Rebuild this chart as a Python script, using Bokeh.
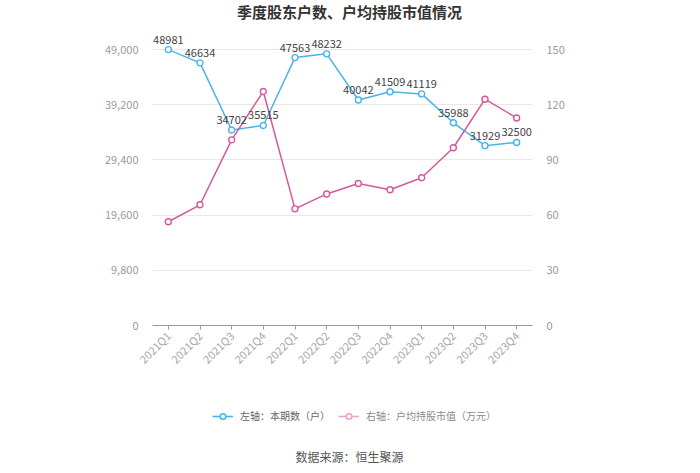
import math
from bokeh.plotting import figure
from bokeh.layouts import column
from bokeh.models import (FactorRange, Range1d, LinearAxis, FixedTicker, NumeralTickFormatter,
                          ColumnDataSource, Label, Legend, LegendItem)
from bokeh.embed import file_html
from bokeh.resources import INLINE
from bokeh.core.properties import value

quarters = ["2021Q1", "2021Q2", "2021Q3", "2021Q4", "2022Q1", "2022Q2",
            "2022Q3", "2022Q4", "2023Q1", "2023Q2", "2023Q3", "2023Q4"]
holders = [48981, 46634, 34702, 35515, 47563, 48232, 40042, 41509, 41119, 35988, 31929, 32500]
avg_value = [56.4, 65.6, 100.9, 127.2, 63.4, 71.5, 77.2, 73.8, 80.3, 96.6, 123.0, 112.8]
left_ticks = [0, 9800, 19600, 29400, 39200, 49000]
right_ticks = [0, 30, 60, 90, 120, 150]

title_text = "季度股东户数、户均持股市值情况"
legend_left = "左轴：本期数（户）"
legend_right = "右轴：户均持股市值（万元）"
source_text = "数据来源：恒生聚源"

BLUE = "#4AB3E8"
PINK = "#D6579D"
PINK_LIGHT = "#EBA3CB"
FONT = "Noto Sans CJK SC"

# frame spans 325 px; axis max sits 276 px above the baseline
head = 325 / 276
left_max = left_ticks[-1] * head
right_max = right_ticks[-1] * head

src = ColumnDataSource(dict(q=quarters, h=holders, v=avg_value,
                            hl=[str(x) for x in holders]))

p = figure(width=700, height=390, x_range=FactorRange(factors=quarters),
           y_range=Range1d(0, left_max), output_backend="svg", toolbar_location=None,
           min_border_left=152, min_border_right=168, min_border_top=0,
           min_border_bottom=65)
p.outline_line_color = None
p.background_fill_color = "white"
p.border_fill_color = "white"

p.extra_y_ranges = {"r": Range1d(0, right_max)}

ya = p.yaxis[0]
ya.ticker = FixedTicker(ticks=left_ticks)
ya.formatter = NumeralTickFormatter(format="0,0")
ra = LinearAxis(y_range_name="r", ticker=FixedTicker(ticks=right_ticks))
p.add_layout(ra, "right")
for ax in (ya, ra):
    ax.axis_line_color = None
    ax.major_tick_line_color = None
    ax.minor_tick_line_color = None
    ax.major_label_text_color = "#9a9a9a"
    ax.major_label_text_font_size = "11px"
    ax.major_label_text_font = FONT
    ax.major_label_standoff = 8

xa = p.xaxis[0]
xa.major_label_orientation = math.pi / 4
xa.axis_line_color = "#999999"
xa.major_tick_line_color = "#999999"
xa.major_tick_out = 4
xa.major_tick_in = 0
xa.major_label_text_color = "#a8a8a8"
xa.major_label_text_font_size = "11px"
xa.major_label_text_font = FONT
xa.major_label_standoff = 4

p.xgrid.grid_line_color = None
p.ygrid.ticker = FixedTicker(ticks=left_ticks)
p.ygrid.grid_line_color = "#e8e8e8"

l1 = p.line(x="q", y="h", source=src, line_color=BLUE, line_width=1.5)
s1 = p.scatter(x="q", y="h", source=src, marker="circle", size=6, fill_color="white",
               line_color=BLUE, line_width=1.4)
l2 = p.line(x="q", y="v", source=src, line_color=PINK, line_width=1.5, y_range_name="r")
s2 = p.scatter(x="q", y="v", source=src, marker="circle", size=6, fill_color="white",
               line_color=PINK, line_width=1.4, y_range_name="r")

p.text(x="q", y="h", text="hl", source=src, text_align="center", text_baseline="bottom",
       y_offset=-6, text_font_size="11px", text_color="#444444", text_font=value(FONT))

# title inside the (tall) frame, positioned in screen px from frame bottom-left
p.add_layout(Label(x=197, y=314, x_units="screen", y_units="screen", text=title_text,
                   text_align="center", text_baseline="middle", text_font_size="15px",
                   text_font_style="bold", text_color="#333333", text_font=FONT))

# footer with legend and source (its frame is aligned with the main frame: x 152..532)
f = figure(width=700, height=83, x_range=Range1d(0, 1), y_range=Range1d(0, 1),
           output_backend="svg", toolbar_location=None, min_border=0)
f.axis.visible = False
f.grid.visible = False
f.outline_line_color = None
f.background_fill_color = "white"
f.border_fill_color = "white"

# legend keys only (no data points of their own)
nan = float("nan")
key_src = ColumnDataSource(dict(x=[nan], y=[nan]))
k1 = f.line(x="x", y="y", source=key_src, line_color=BLUE, line_width=1.6)
k1s = f.scatter(x="x", y="y", source=key_src, marker="circle", size=9, fill_color="white",
                line_color=BLUE, line_width=1.6)
k2 = f.line(x="x", y="y", source=key_src, line_color=PINK_LIGHT, line_width=1.6)
k2s = f.scatter(x="x", y="y", source=key_src, marker="circle", size=9, fill_color="white",
                line_color=PINK_LIGHT, line_width=1.6)

common = dict(orientation="horizontal", padding=0, margin=0, spacing=0,
              glyph_width=21, glyph_height=14, label_standoff=7,
              border_line_color=None, background_fill_alpha=0,
              label_text_font_size="10px", label_text_font=FONT)
leg1 = Legend(items=[LegendItem(label=legend_left, renderers=[k1, k1s])],
              location=(60, 50), label_text_color="#666666", **common)
leg2 = Legend(items=[LegendItem(label=legend_right, renderers=[k2, k2s])],
              location=(186, 50), label_text_color="#8a8a8a", **common)
f.add_layout(leg1, "center")
f.add_layout(leg2, "center")

f.add_layout(Label(x=197, y=17, x_units="screen", y_units="screen", text=source_text,
                   text_align="center", text_baseline="middle", text_font_size="12px",
                   text_color="#555555", text_font=FONT))

open("out.html", "w").write(file_html(column(p, f, spacing=0), INLINE))
